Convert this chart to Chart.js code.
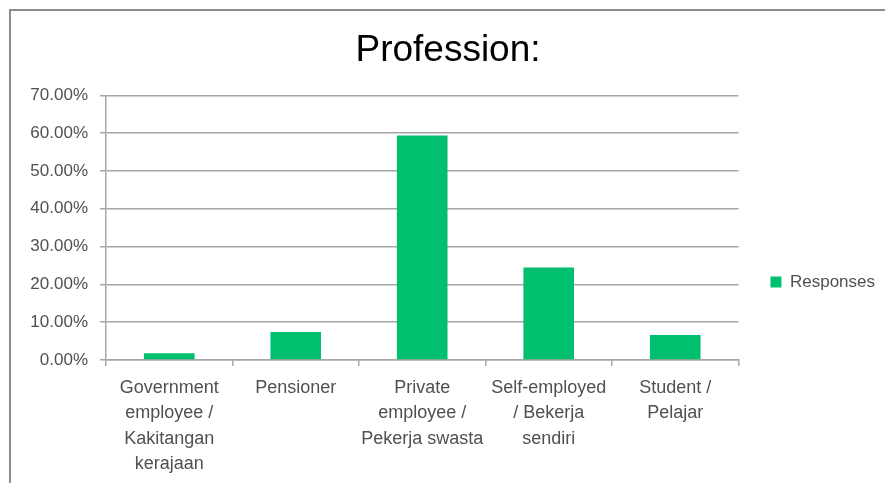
<!DOCTYPE html>
<html>
<head>
<meta charset="utf-8">
<script src="https://cdn.jsdelivr.net/npm/chart.js@4"></script>
<style>
html,body{margin:0;padding:0;background:#fff;overflow:hidden;width:885px;height:483px;}
#frame{position:absolute;left:9px;top:9px;width:900px;height:500px;border-top:2px solid #8c8c8c;border-left:2px solid #8c8c8c;}
#c{position:absolute;left:11px;top:11px;}
</style>
</head>
<body>
<div id="frame"></div>
<canvas id="c" width="890" height="472"></canvas>
<script>
const categories = [
  ["Government", "employee /", "Kakitangan", "kerajaan"],
  ["Pensioner"],
  ["Private", "employee /", "Pekerja swasta"],
  ["Self-employed", "/ Bekerja", "sendiri"],
  ["Student /", "Pelajar"]
];
const responses = [1.8, 7.4, 59.4, 24.5, 6.6];
const seriesName = "Responses";
const yTicks = [0, 10, 20, 30, 40, 50, 60, 70];

const gridColor = '#a6a6a6';
const textColor = '#505050';
const fam = "'Liberation Sans', Arial, sans-serif";

new Chart(document.getElementById('c'), {
  type: 'bar',
  data: {
    labels: categories,
    datasets: [{
      label: seriesName,
      data: responses,
      backgroundColor: '#00bf6f',
      borderWidth: 0,
      barPercentage: 0.4,
      categoryPercentage: 1.0
    }]
  },
  options: {
    responsive: false,
    devicePixelRatio: 1,
    animation: false,
    layout: {padding: {left: 0, right: 16, top: 0, bottom: 0}},
    plugins: {
      title: {
        display: true,
        text: 'Profession:',
        color: '#000',
        font: {family: fam, size: 37, weight: 'normal'},
        padding: {top: 18, bottom: 22}
      },
      legend: {
        position: 'right',
        title: {
          display: true,
          text: ' ',
          color: 'rgba(0,0,0,0)',
          font: {size: 10, lineHeight: 1.2},
          padding: {top: 29, bottom: 29}
        },
        labels: {
          boxWidth: 11,
          boxHeight: 11,
          color: textColor,
          font: {family: fam, size: 17},
          padding: 32
        }
      },
      tooltip: {enabled: false}
    },
    scales: {
      x: {
        afterFit: (axis) => { axis.height = 123; },
        grid: {display: true, offset: true, drawOnChartArea: false, drawTicks: true, tickLength: 6, color: gridColor, lineWidth: 1.5},
        border: {display: true, color: gridColor, width: 1.5},
        ticks: {color: textColor, font: {family: fam, size: 18, lineHeight: 1.39}, maxRotation: 0, autoSkip: false, padding: 10}
      },
      y: {
        min: 0,
        max: 70,
        afterBuildTicks: (axis) => { axis.ticks = yTicks.map(v => ({value: v})); },
        afterFit: (axis) => { axis.width = 95; },
        grid: {color: gridColor, lineWidth: 1.5, tickLength: 6},
        border: {display: true, color: gridColor, width: 1.5},
        ticks: {color: textColor, font: {family: fam, size: 17}, padding: 12, callback: (v) => v.toFixed(2) + '%'}
      }
    }
  }
});
</script>
</body>
</html>
